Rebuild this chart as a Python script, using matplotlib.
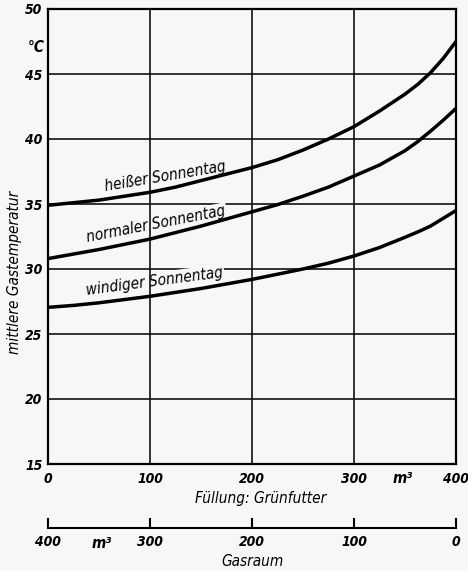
import matplotlib
matplotlib.use('Agg')
import matplotlib.pyplot as plt

plt.rcParams['font.family'] = ['DejaVu Sans']
plt.rcParams['font.stretch'] = 'condensed'
plt.rcParams['font.style'] = 'italic'

# Füllung (m³) und mittlere Gastemperatur (°C)
fuellung = [0, 25, 50, 75, 100, 125, 150, 175, 200, 225, 250, 275, 300,
            325, 350, 362.5, 375, 387.5, 400]
heiss = [34.9, 35.1, 35.3, 35.6, 35.9, 36.3, 36.8, 37.3, 37.8, 38.4, 39.15,
         40.0, 40.95, 42.15, 43.45, 44.2, 45.1, 46.2, 47.5]
normal = [30.8, 31.15, 31.5, 31.9, 32.3, 32.8, 33.3, 33.85, 34.4, 34.95,
          35.6, 36.3, 37.15, 38.0, 39.1, 39.8, 40.6, 41.45, 42.35]
windig = [27.05, 27.2, 27.4, 27.65, 27.9, 28.2, 28.5, 28.85, 29.2, 29.6, 30.0,
          30.45, 31.0, 31.65, 32.44, 32.85, 33.3, 33.9, 34.5]

kurven = [heiss, normal, windig]
namen = ['heißer Sonnentag', 'normaler Sonnentag', 'windiger Sonnentag']
# Lage der Beschriftungen (x, T, Drehung)
lage = [(56, 36.0, 9.5), (39, 32.05, 11), (38, 28.0, 7.5)]

x_ticks = [0, 100, 200, 300, 400]
y_ticks = [15, 20, 25, 30, 35, 40, 45, 50]

bg = '#f7f7f5'
fig = plt.figure(figsize=(4.68, 5.71), dpi=100, facecolor=bg)
ax = fig.add_axes([48 / 468, 1 - 464 / 571, 408 / 468, 455 / 571])
ax.set_facecolor(bg)
ax.set_xlim(0, 400)
ax.set_ylim(15, 50)

for t in y_ticks[1:-1]:
    ax.axhline(t, color='#111111', lw=1.2, zorder=1)
for x in x_ticks[1:-1]:
    ax.axvline(x, color='#111111', lw=1.2, zorder=3)

for y, name, (tx, ty, rot) in zip(kurven, namen, lage):
    ax.plot(fuellung, y, color='black', lw=2.5, zorder=4,
            solid_joinstyle='round')
    ax.text(tx, ty, name, rotation=rot, rotation_mode='anchor', ha='left',
            va='baseline', fontsize=11, zorder=2,
            bbox=dict(boxstyle='square,pad=0.08', fc=bg, ec='none'))

for s in ax.spines.values():
    s.set_linewidth(1.6)

ax.set_xticks(x_ticks)
ax.set_yticks(y_ticks)
ax.tick_params(length=0, labelsize=10)
ax.tick_params(axis='x', pad=6)
ax.tick_params(axis='y', pad=4)
for lab in ax.get_xticklabels() + ax.get_yticklabels():
    lab.set_fontweight('bold')

ax.text(348, -0.031, 'm³', transform=ax.get_xaxis_transform(), ha='center',
        va='center', fontsize=11, fontweight='bold')
fig.text(261 / 468, 1 - 499 / 571, 'Füllung: Grünfutter', ha='center',
         va='center', fontsize=11)
fig.text(36 / 468, 1 - 48 / 571, '°C', ha='center', va='center',
         fontsize=11, fontweight='bold')
fig.text(15 / 468, 1 - 272 / 571, 'mittlere Gastemperatur', rotation=90,
         ha='center', va='center', fontsize=11)

# zweite Skala: Gasraum
sec = ax.secondary_xaxis(-(528 - 464) / 455,
                         functions=(lambda v: 400 - v, lambda v: 400 - v))
sec.set_xticks(x_ticks)
sec.tick_params(direction='in', length=7, width=1.5, labelsize=10, pad=5)
sec.spines['bottom'].set_linewidth(1.5)
for lab in sec.get_xticklabels():
    lab.set_fontweight('bold')
ax.text(53, -(543 - 464) / 455, 'm³', transform=ax.get_xaxis_transform(),
        ha='center', va='center', fontsize=11, fontweight='bold')
fig.text(252 / 468, 1 - 561 / 571, 'Gasraum', ha='center', va='center',
         fontsize=11)

fig.savefig('out.png', dpi=100, facecolor=bg)
